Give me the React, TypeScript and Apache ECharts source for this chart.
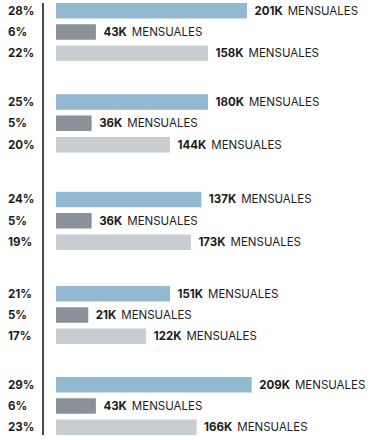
import React, { useEffect, useRef } from "react";
import * as echarts from "echarts";

// Share of audience per row (left labels), one list per group
const percentLabels: string[][] = [
  ["28%", "6%", "22%"],
  ["25%", "5%", "20%"],
  ["24%", "5%", "19%"],
  ["21%", "5%", "17%"],
  ["29%", "6%", "23%"],
];

// Monthly users in thousands (right labels)
const monthlyK: number[][] = [
  [201, 43, 158],
  [180, 36, 144],
  [137, 36, 173],
  [151, 21, 122],
  [209, 43, 166],
];

// Bar lengths as drawn in the picture (thousands)
const barLengths: number[][] = [
  [201, 42, 160],
  [160, 37.5, 120],
  [153, 37.5, 142],
  [120, 34, 95],
  [206, 42, 148],
];

const unitLabel = "MENSUALES";

// styles
const barColors = ["#93b8d2", "#8a9199", "#c8cdd2"];
const groupTops = [0, 91.3, 188.8, 283, 374];
const groupHeight = 64;
const FONT = "Inter";

export default function App() {
  const ref = useRef<HTMLDivElement>(null);
  useEffect(() => {
    if (!ref.current) return;
    const chart = echarts.init(ref.current, undefined, { renderer: "svg" });
    const grids = groupTops.map((top) => ({
      left: 56,
      top,
      height: groupHeight,
      width: 304,
      containLabel: false,
    }));
    const xAxes = groupTops.map((_, i) => ({
      type: "value",
      gridIndex: i,
      min: 0,
      max: 320,
      show: false,
    }));
    const yAxes = percentLabels.map((labels, i) => ({
      type: "category",
      gridIndex: i,
      inverse: true,
      data: labels,
      axisLine: { show: false },
      axisTick: { show: false },
      splitLine: { show: false },
      axisLabel: {
        align: "left",
        margin: 48,
        fontFamily: FONT,
        fontWeight: 700,
        fontSize: 11.5,
        color: "#1c1c1c",
      },
    }));
    const series = barLengths.map((vals, i) => ({
      type: "bar",
      xAxisIndex: i,
      yAxisIndex: i,
      barWidth: 15.5,
      data: vals.map((v, j) => ({
        value: v,
        itemStyle: { color: barColors[j] },
      })),
      label: {
        show: true,
        position: "right",
        distance: 7.5,
        formatter: (p: any) => `{b|${monthlyK[i][p.dataIndex]}K}{n|${unitLabel}}`,
        rich: {
          b: {
            fontFamily: FONT,
            fontWeight: 700,
            fontSize: 11.5,
            color: "#1c1c1c",
          },
          n: {
            fontFamily: FONT,
            fontWeight: 400,
            fontSize: 11.5,
            color: "#1c1c1c",
            padding: [0, 0, 0, 5],
          },
        },
      },
    }));
    chart.setOption({
      animation: false,
      grid: grids,
      xAxis: xAxes,
      yAxis: yAxes,
      series,
      graphic: [
        {
          type: "line",
          shape: { x1: 43, y1: 3, x2: 43, y2: 435 },
          style: { stroke: "#4a4a4a", lineWidth: 2 },
        },
      ],
    });
    return () => chart.dispose();
  }, []);
  return (
    <div
      ref={ref}
      style={{ position: "fixed", left: 0, top: 0, width: 370, height: 440, background: "#fff" }}
    />
  );
}
